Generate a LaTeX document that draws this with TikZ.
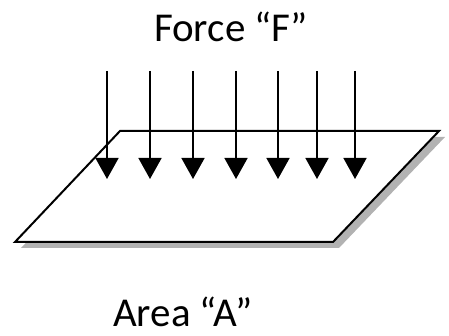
\documentclass[tikz,border=0pt]{standalone}
\usepackage{fontspec}
\setmainfont{Carlito}
\usetikzlibrary{arrows.meta}

\begin{document}
\begin{tikzpicture}[x=1pt, y=-1pt, font=\fontsize{41}{48}\selectfont,
  force/.style={line width=1.6pt, -{Triangle[width=23pt,length=21pt]}},
  plate/.style={draw=black, line width=2pt, fill=white, line join=miter},
  label/.style={anchor=base, inner sep=0pt}]
  \useasboundingbox (0,0) rectangle (449,336);
  % shadow, then the plate
  \fill[gray!60] (126,137) -- (445,137) -- (339,248) -- (21,248) -- cycle;
  \draw[plate] (120,131) -- (439,131) -- (333,242) -- (15,242) -- cycle;
  \foreach \i/\x in {1/107,2/150,3/193,4/236,5/278,6/317,7/355} {
    \coordinate (ftop\i) at (\x,71);
    \coordinate (ftip\i) at (\x,179);
    \draw[force] (ftop\i) -- (ftip\i);
  }
  \node[label] (force) at (231,42) {Force “F”};
  \node[label] (area) at (183,326) {Area “A”};
\end{tikzpicture}
\end{document}
